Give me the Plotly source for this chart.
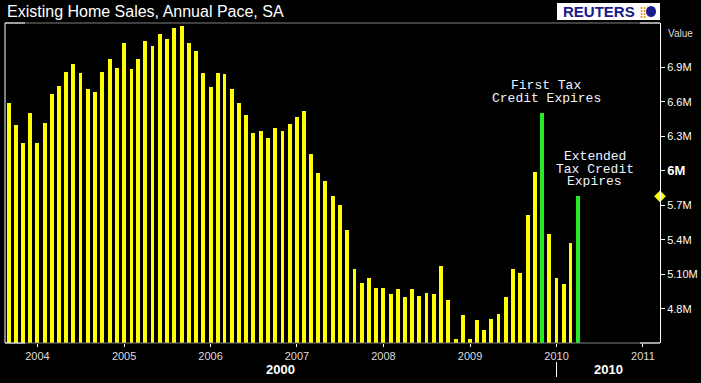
import plotly.graph_objects as go
import pandas as pd

# ---- data (monthly, existing home sales, annual pace, millions) ----
start_month = "2003-09-01"
sales = [
    6.59, 6.40, 6.24, 6.50,                                            # 2003 Sep-Dec
    6.24, 6.42, 6.67, 6.74, 6.86, 6.93, 6.85, 6.71, 6.69, 6.86, 6.97, 6.90,  # 2004
    7.11, 6.89, 6.97, 7.13, 7.09, 7.19, 7.15, 7.24, 7.26, 7.11, 7.04, 6.85,  # 2005
    6.73, 6.85, 6.84, 6.71, 6.59, 6.49, 6.33, 6.35, 6.29, 6.37, 6.35, 6.41,  # 2006
    6.47, 6.52, 6.15, 5.98, 5.91, 5.78, 5.70, 5.49, 5.15, 5.03, 5.07, 4.98,  # 2007
    4.98, 4.93, 4.97, 4.90, 4.97, 4.91, 4.94, 4.93, 5.17, 4.88, 4.54, 4.75,  # 2008
    4.54, 4.70, 4.62, 4.71, 4.76, 4.90, 5.15, 5.11, 5.62, 5.99, 6.50, 5.45,  # 2009
    5.07, 5.02, 5.37, 5.78,                                            # 2010 Jan-Apr
]
highlight_months = ["2009-11-01", "2010-04-01"]
ytick_vals = [4.8, 5.1, 5.4, 5.7, 6.0, 6.3, 6.6, 6.9]
ytick_text = ["4.8M", "5.10M", "5.4M", "5.7M",
              "<span style='font-size:13px'><b>6M</b></span>",
              "6.3M", "6.6M", "6.9M"]
year_ticks = [f"{y}-01-01" for y in range(2004, 2012)]
year_labels = [str(y) for y in range(2004, 2012)]
note1_lines = ["First Tax", "Credit Expires"]
note2_lines = ["Extended", "Tax Credit", "Expires"]

dates = pd.date_range(start_month, periods=len(sales), freq="MS")
hl = set(pd.to_datetime(highlight_months))
colors = ["#22ee22" if d in hl else "#ffff00" for d in dates]

X0, X1 = "2003-08-17", "2011-03-14"
Y0, Y1 = 4.504, 7.287

fig = go.Figure()
fig.add_trace(go.Bar(
    x=dates, y=sales, marker=dict(color=colors, line=dict(width=0)),
    width=16.5 * 86400000, showlegend=False, hoverinfo="x+y",
))
# last-value marker on the value axis
fig.add_trace(go.Scatter(
    x=[X1], y=[sales[-1]], mode="markers",
    marker=dict(symbol="diamond", color="#ffff00", size=9),
    cliponaxis=False, showlegend=False, hoverinfo="skip",
))

def px_x(px):
    return (px - 5) / 655.0

def px_y(py):
    return (343 - py) / 320.0

shapes = [
    # frame
    dict(type="line", xref="paper", yref="paper", x0=0, x1=1, y0=1, y1=1,
         line=dict(color="#808080", width=1)),
    dict(type="line", xref="paper", yref="paper", x0=0, x1=1, y0=0, y1=0,
         line=dict(color="#808080", width=1)),
    dict(type="line", xref="paper", yref="paper", x0=0, x1=0, y0=0, y1=1,
         line=dict(color="#ffffff", width=1)),
    dict(type="line", xref="paper", yref="paper", x0=0, x1=px_x(25), y0=1, y1=1,
         line=dict(color="#ffffff", width=1)),
    dict(type="line", xref="paper", yref="paper", x0=0, x1=px_x(25), y0=0, y1=0,
         line=dict(color="#ffffff", width=1)),
    dict(type="line", xref="paper", yref="paper", x0=px_x(640), x1=1, y0=1, y1=1,
         line=dict(color="#ffffff", width=1)),
    dict(type="line", xref="paper", yref="paper", x0=px_x(640), x1=1, y0=0, y1=0,
         line=dict(color="#ffffff", width=1)),
    # decade separator
    dict(type="line", xref="x", yref="paper", x0="2010-01-01", x1="2010-01-01",
         y0=px_y(362), y1=px_y(377), line=dict(color="#ffffff", width=1)),
    # Reuters logo box
    dict(type="rect", xref="paper", yref="paper", x0=px_x(557), x1=px_x(660),
         y0=px_y(20), y1=px_y(3), fillcolor="#ffffff", line=dict(width=0)),
    dict(type="circle", xref="paper", yref="paper", x0=px_x(646), x1=px_x(656),
         y0=px_y(17), y1=px_y(6), fillcolor="#1a1a8c", line=dict(width=0)),
]
for cx in (641.5, 644.5):
    for cy in (8, 11, 14, 17):
        shapes.append(dict(type="circle", xref="paper", yref="paper",
                           x0=px_x(cx - 1), x1=px_x(cx + 1),
                           y0=px_y(cy + 1), y1=px_y(cy - 1),
                           fillcolor="#f08a00", line=dict(width=0)))

mono = "Liberation Mono, Courier New, monospace"
sans = "Liberation Sans, Arial"
annotations = [
    dict(text="Existing Home Sales, Annual Pace, SA", xref="paper", yref="paper",
         x=px_x(5), y=px_y(12), xanchor="left", yanchor="middle", showarrow=False,
         font=dict(family=sans, size=16, color="#ffffff")),
    dict(text="<b>REUTERS</b>", xref="paper", yref="paper",
         x=px_x(599), y=px_y(12), xanchor="center", yanchor="middle", showarrow=False,
         font=dict(family=sans, size=15, color="#1a1a8c")),
    dict(text="Value", xref="paper", yref="paper", x=px_x(666), y=px_y(33),
         xanchor="left", yanchor="middle", showarrow=False,
         font=dict(family=sans, size=10, color="#dddddd")),
    dict(text="<b>2000</b>", xref="paper", yref="paper", x=px_x(280), y=px_y(369),
         xanchor="center", yanchor="middle", showarrow=False,
         font=dict(family=sans, size=13, color="#ffffff")),
    dict(text="<b>2010</b>", xref="paper", yref="paper", x=px_x(608), y=px_y(369),
         xanchor="center", yanchor="middle", showarrow=False,
         font=dict(family=sans, size=13, color="#ffffff")),
]
for i, line in enumerate(note1_lines):
    annotations.append(dict(text=line, xref="paper", yref="paper",
                            x=px_x(546), y=px_y(85 + 13 * i), xanchor="center",
                            yanchor="middle", showarrow=False, height=12,
                            borderpad=0,
                            font=dict(family=mono, size=13, color="#f0f4ff")))
for i, line in enumerate(note2_lines):
    annotations.append(dict(text=line, xref="paper", yref="paper",
                            x=px_x(594.5), y=px_y(156 + 12.5 * i), xanchor="center",
                            yanchor="middle", showarrow=False, height=12,
                            borderpad=0,
                            font=dict(family=mono, size=13, color="#f0f4ff")))

fig.update_layout(
    width=701, height=383,
    margin=dict(l=5, r=41, t=23, b=40, autoexpand=False),
    paper_bgcolor="#000000", plot_bgcolor="#000000",
    bargap=0, shapes=shapes, annotations=annotations,
    xaxis=dict(type="date", range=[X0, X1], tickmode="array",
               tickvals=year_ticks, ticktext=year_labels, automargin=False,
               ticks="outside", ticklen=3, tickcolor="#ffffff",
               tickfont=dict(family=sans, size=11, color="#dddddd"),
               showgrid=False, zeroline=False, showline=False),
    yaxis=dict(side="right", range=[Y0, Y1], tickmode="array",
               tickvals=ytick_vals, ticktext=ytick_text, automargin=False,
               ticks="outside", ticklen=4, tickcolor="#ffffff",
               tickfont=dict(family=sans, size=11, color="#ffffff"),
               showgrid=False, zeroline=False, showline=True,
               linecolor="#ffffff", linewidth=1),
)

fig.write_html(
    "out.html",
    config={"displayModeBar": False},
    post_script="document.body.style.margin='0';document.body.style.background='#000';",
)
